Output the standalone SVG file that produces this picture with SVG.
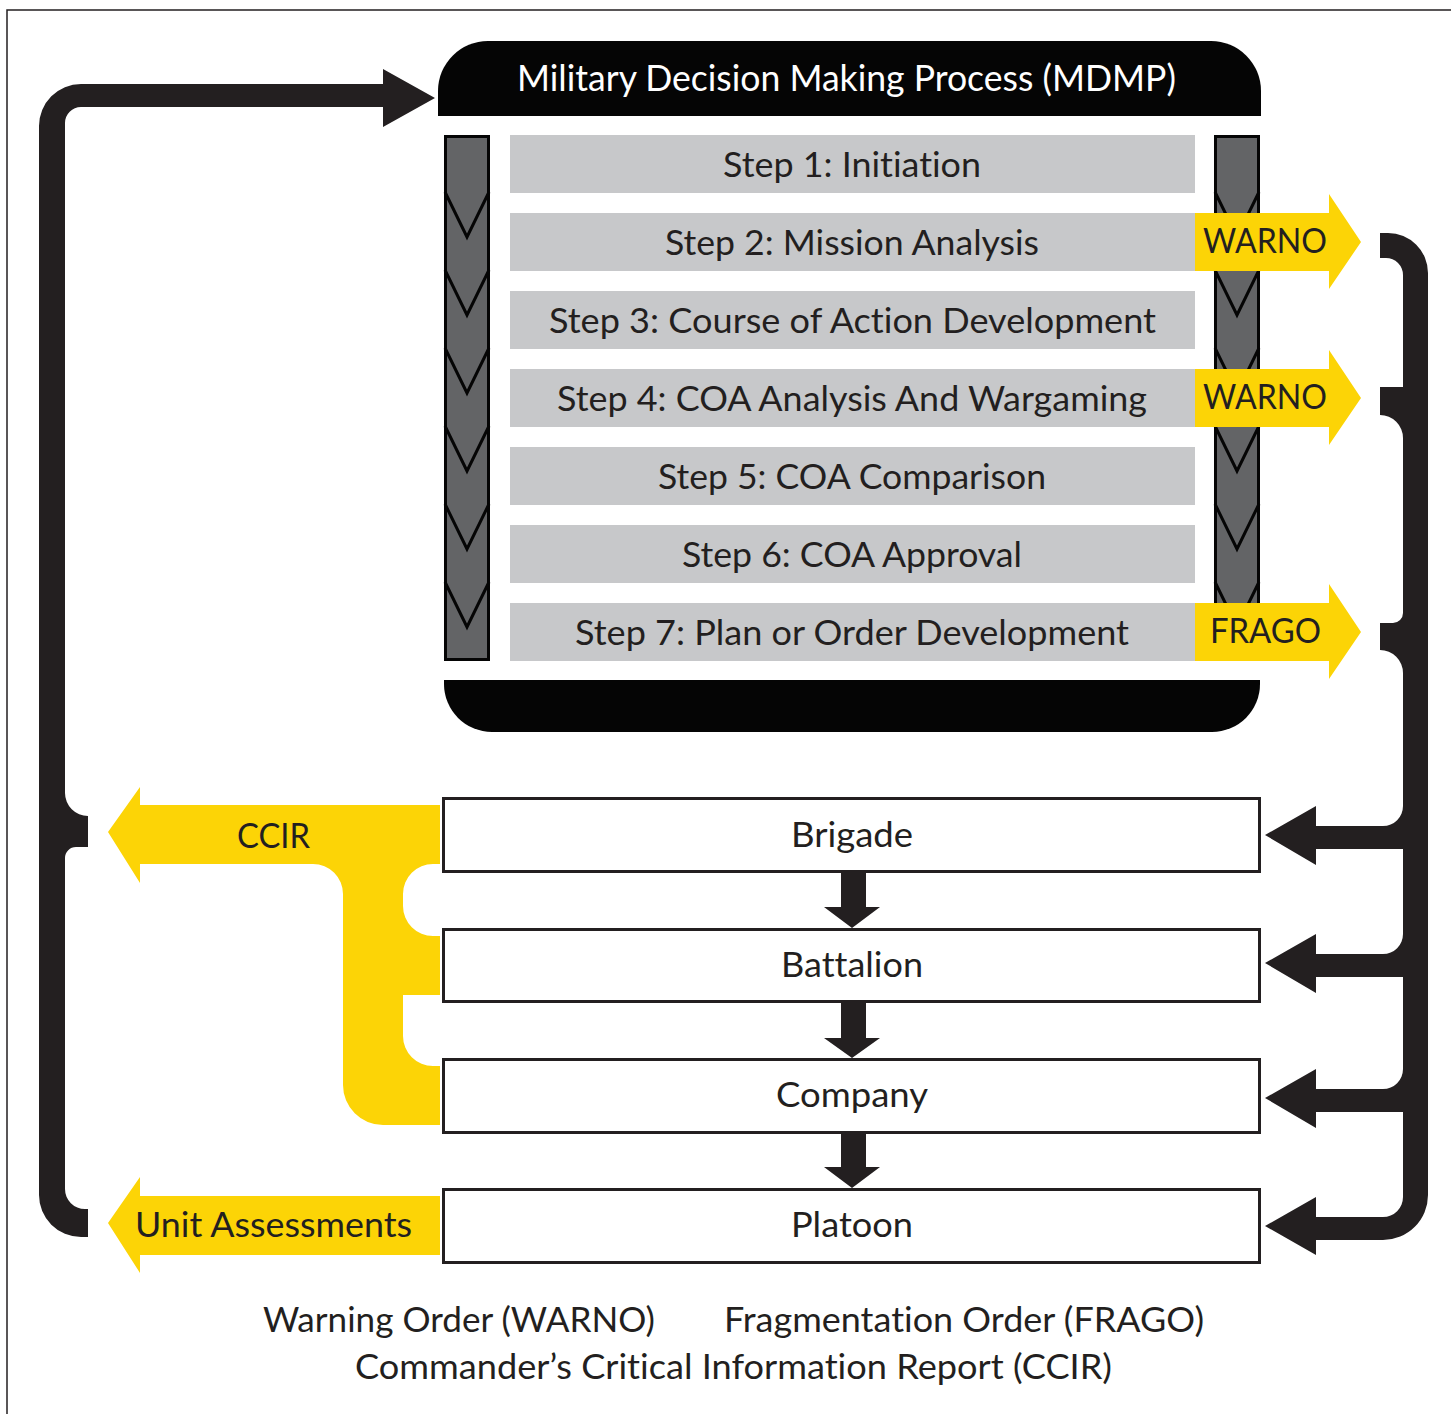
<svg xmlns="http://www.w3.org/2000/svg" width="1451" height="1414" viewBox="0 0 1451 1414">
<style>
.t{font-family:Lato,"Open Sans","Liberation Sans",sans-serif;font-size:34px;fill:#231f20;text-anchor:middle;font-variant-ligatures:none;font-feature-settings:"liga" 0,"clig" 0}
.hdr{font-size:36px;fill:#ffffff}
.bar{fill:#c7c8ca}
.col{fill:#636466;stroke:#050505;stroke-width:3}
.chev{fill:none;stroke:#050505;stroke-width:3;stroke-linejoin:miter}
.box{fill:#ffffff;stroke:#231f20;stroke-width:3}
.ink{fill:#231f20}
.yel{fill:#fcd406}
.blk{fill:#050505}
</style>
<rect x="0" y="0" width="1451" height="1414" fill="#ffffff"/>
<rect x="7" y="10" width="1470" height="1430" fill="none" stroke="#231f20" stroke-width="1.5"/>

<g id="mdmp-header">
<path class="blk" d="M438,116 L438,91 A50,50 0 0 1 488,41 L1211,41 A50,50 0 0 1 1261,91 L1261,116 Z"/>
<text class="t hdr" x="846.5" y="91" textLength="659" lengthAdjust="spacingAndGlyphs">Military Decision Making Process (MDMP)</text>
</g>

<g id="mdmp-footer">
<path class="blk" d="M444,680 L1260,680 L1260,684 A48,48 0 0 1 1212,732 L492,732 A48,48 0 0 1 444,684 Z"/>
</g>

<g id="flow-left">
<rect class="col" x="445.5" y="136.5" width="43" height="523"/>
<path class="chev" d="M445,192 L467,237 L489,192 M445,270 L467,315 L489,270 M445,348 L467,393 L489,348 M445,426 L467,471 L489,426 M445,504 L467,549 L489,504 M445,582 L467,627 L489,582"/>
</g>

<g id="flow-right">
<rect class="col" x="1215.5" y="136.5" width="43" height="523"/>
<path class="chev" d="M1215,192 L1237,237 L1259,192 M1215,270 L1237,315 L1259,270 M1215,348 L1237,393 L1259,348 M1215,426 L1237,471 L1259,426 M1215,504 L1237,549 L1259,504 M1215,582 L1237,627 L1259,582"/>
</g>

<g id="step1"><rect class="bar" x="510" y="135" width="685" height="58"/><text class="t" x="852" y="177" textLength="258" lengthAdjust="spacingAndGlyphs">Step 1: Initiation</text></g>
<g id="step2"><rect class="bar" x="510" y="213" width="685" height="58"/><text class="t" x="852" y="255" textLength="374" lengthAdjust="spacingAndGlyphs">Step 2: Mission Analysis</text></g>
<g id="step3"><rect class="bar" x="510" y="291" width="685" height="58"/><text class="t" x="852.5" y="333" textLength="607" lengthAdjust="spacingAndGlyphs">Step 3: Course of Action Development</text></g>
<g id="step4"><rect class="bar" x="510" y="369" width="685" height="58"/><text class="t" x="852" y="411" textLength="590" lengthAdjust="spacingAndGlyphs">Step 4: COA Analysis And Wargaming</text></g>
<g id="step5"><rect class="bar" x="510" y="447" width="685" height="58"/><text class="t" x="852" y="489" textLength="388" lengthAdjust="spacingAndGlyphs">Step 5: COA Comparison</text></g>
<g id="step6"><rect class="bar" x="510" y="525" width="685" height="58"/><text class="t" x="852" y="567" textLength="340" lengthAdjust="spacingAndGlyphs">Step 6: COA Approval</text></g>
<g id="step7"><rect class="bar" x="510" y="603" width="685" height="58"/><text class="t" x="852" y="645" textLength="554" lengthAdjust="spacingAndGlyphs">Step 7: Plan or Order Development</text></g>

<g id="warno1">
<polygon class="yel" points="1195,213 1329,213 1329,194 1361,242 1329,289 1329,271 1195,271"/>
<text class="t" x="1265" y="253" textLength="124" lengthAdjust="spacingAndGlyphs">WARNO</text>
</g>
<g id="warno2">
<polygon class="yel" points="1195,369 1329,369 1329,350 1361,398 1329,445 1329,427 1195,427"/>
<text class="t" x="1265" y="409" textLength="124" lengthAdjust="spacingAndGlyphs">WARNO</text>
</g>
<g id="frago">
<polygon class="yel" points="1195,603 1329,603 1329,584 1361,632 1329,679 1329,661 1195,661"/>
<text class="t" x="1265.5" y="643" textLength="111" lengthAdjust="spacingAndGlyphs">FRAGO</text>
</g>

<g id="brigade"><rect class="box" x="443.5" y="798.5" width="816" height="73"/><text class="t" x="852" y="847" textLength="122" lengthAdjust="spacingAndGlyphs">Brigade</text></g>
<g id="battalion"><rect class="box" x="443.5" y="929.5" width="816" height="72"/><text class="t" x="852" y="977" textLength="142" lengthAdjust="spacingAndGlyphs">Battalion</text></g>
<g id="company"><rect class="box" x="443.5" y="1059.5" width="816" height="73"/><text class="t" x="852" y="1107" textLength="152" lengthAdjust="spacingAndGlyphs">Company</text></g>
<g id="platoon"><rect class="box" x="443.5" y="1189.5" width="816" height="73"/><text class="t" x="852" y="1237" textLength="122" lengthAdjust="spacingAndGlyphs">Platoon</text></g>

<g id="ccir">
<path class="yel" d="M108,832 L140,787 L140,805 L440,805 L440,864 L433,864 A30,30 0 0 0 403,894 L403,906 A30,30 0 0 0 433,936 L440,936 L440,995 L403,995 L403,1036 A30,30 0 0 0 433,1066 L440,1066 L440,1125 L383,1125 A40,40 0 0 1 343,1085 L343,894 A30,30 0 0 0 313,864 L140,864 L140,883 Z"/>
<text class="t" x="273.5" y="848" textLength="73" lengthAdjust="spacingAndGlyphs">CCIR</text>
</g>
<g id="unit-assessments">
<polygon class="yel" points="108,1223 140,1177 140,1196 440,1196 440,1255 140,1255 140,1273"/>
<text class="t" x="273.5" y="1237" textLength="277" lengthAdjust="spacingAndGlyphs">Unit Assessments</text>
</g>

<g id="connectors">
<path id="feedback-bracket" class="ink" d="M383,84 L81,84 A42,42 0 0 0 39,126 L39,1195 A42,42 0 0 0 81,1237 L88,1237 L88,1209 L85,1209 A20,20 0 0 1 65,1189 L65,858 A11,11 0 0 1 76,847 L88,847 L88,816 A23,23 0 0 1 65,793 L65,123 A16,16 0 0 1 81,107 L383,107 L383,127 L435,98 L383,69 Z"/>
<path id="orders-bracket" class="ink" d="M1380,233 L1388,233 A40,40 0 0 1 1428,273 L1428,1195 A45,45 0 0 1 1383,1240 L1316,1240 L1316,1255 L1265,1226 L1316,1197 L1316,1217 L1383,1217 A20,20 0 0 0 1403,1197 L1403,1112 L1316,1112 L1316,1128 L1265,1098 L1316,1069 L1316,1089 L1383,1089 A20,20 0 0 0 1403,1069 L1403,977 L1316,977 L1316,993 L1265,963 L1316,934 L1316,954 L1383,954 A20,20 0 0 0 1403,934 L1403,849 L1316,849 L1316,865 L1265,835 L1316,806 L1316,826 L1383,826 A20,20 0 0 0 1403,806 L1403,673 A23,23 0 0 0 1380,650 L1380,623 L1393,623 A10,10 0 0 0 1403,613 L1403,438 A23,23 0 0 0 1380,415 L1380,387 L1403,387 L1403,275 A17,17 0 0 0 1386,258 L1380,258 Z"/>
<polygon class="ink" points="841,872 866,872 866,907 880,907 852,928 824,907 841,907"/>
<polygon class="ink" points="841,1002 866,1002 866,1038 880,1038 852,1058 824,1038 841,1038"/>
<polygon class="ink" points="841,1133 866,1133 866,1167 880,1167 852,1188 824,1167 841,1167"/>
</g>

<g id="legend">
<text class="t" x="459" y="1332" textLength="392" lengthAdjust="spacingAndGlyphs">Warning Order (WARNO)</text>
<text class="t" x="964" y="1332" textLength="480" lengthAdjust="spacingAndGlyphs">Fragmentation Order (FRAGO)</text>
<text class="t" x="733.5" y="1379" textLength="757" lengthAdjust="spacingAndGlyphs">Commander’s Critical Information Report (CCIR)</text>
</g>
</svg>
